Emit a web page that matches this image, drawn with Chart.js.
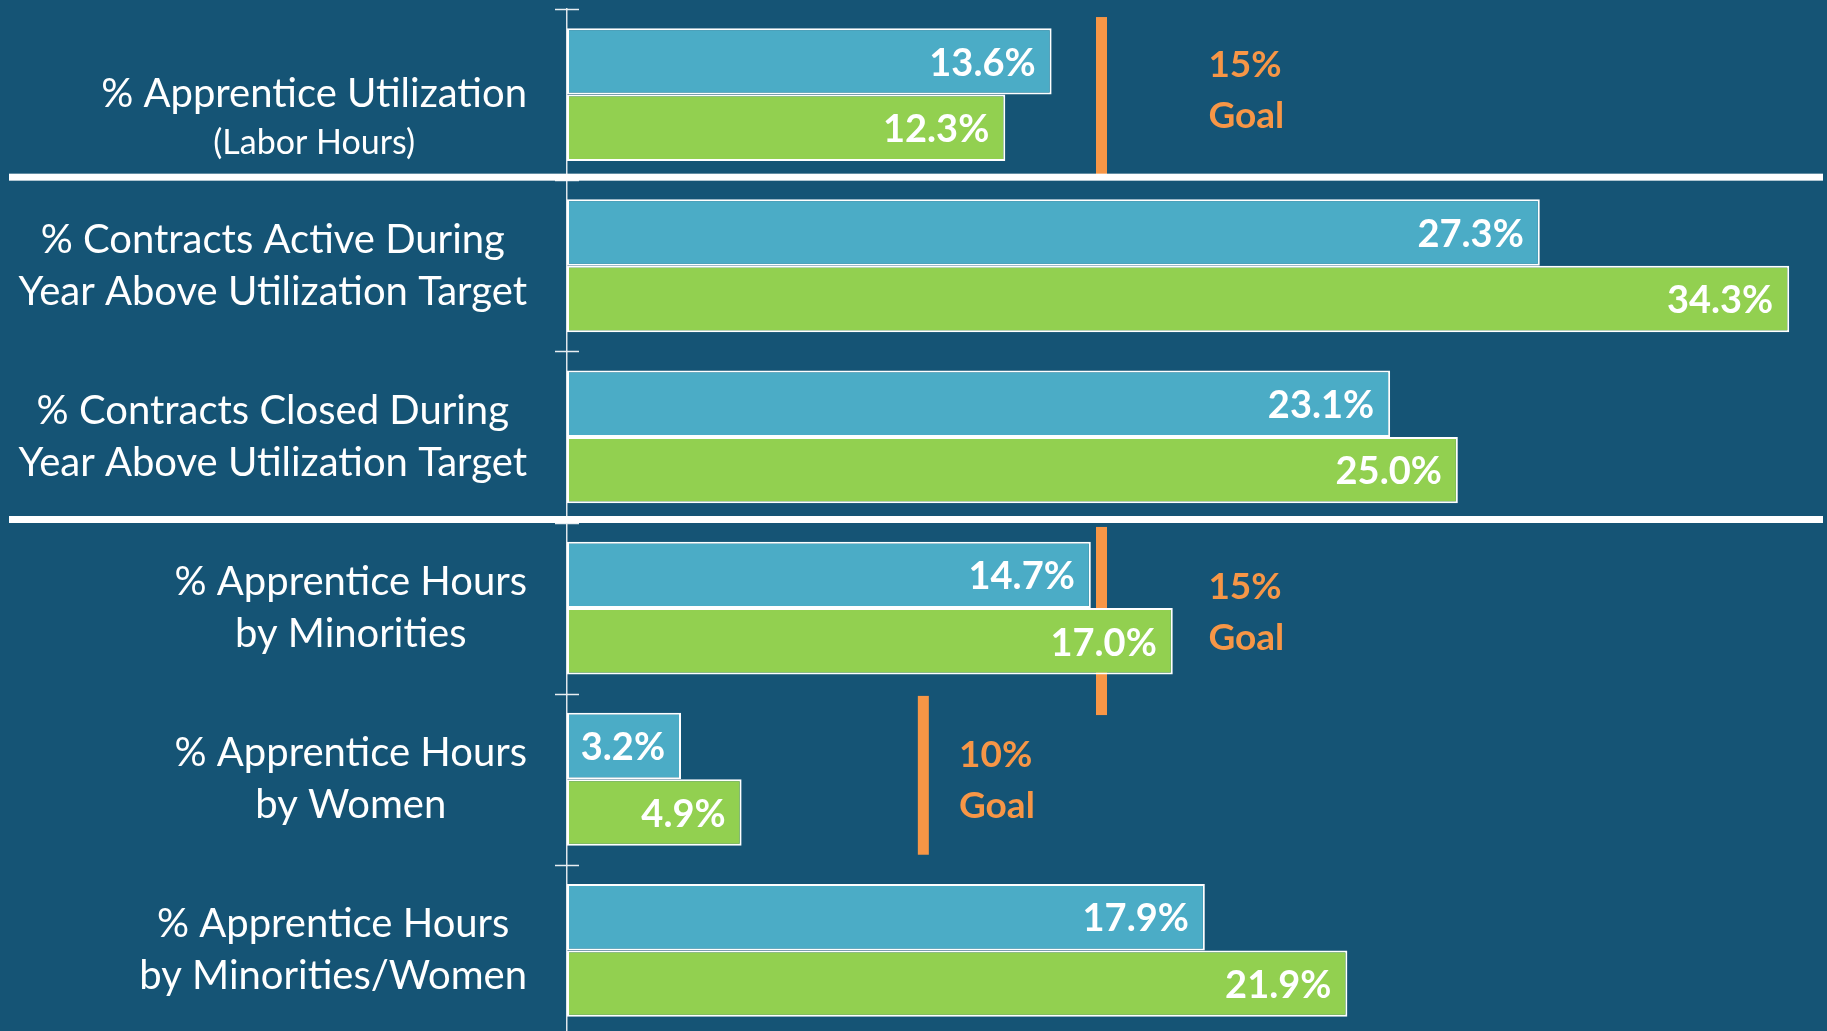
<!DOCTYPE html>
<html>
<head>
<meta charset="utf-8">
<script src="https://cdn.jsdelivr.net/npm/chart.js@4.4.1/dist/chart.umd.min.js"></script>
<style>
  html, body { margin: 0; padding: 0; background: #155475; overflow: hidden; }
  #wrap { position: absolute; left: 0; top: 0; width: 1827px; height: 1036px; }
</style>
</head>
<body>
<div id="wrap"><canvas id="utilChart"></canvas></div>
<script>
// Categorías (líneas de la etiqueta)
const categories = [
    ['% Apprentice Utilization', '(Labor Hours)'],
    ['% Contracts Active During', 'Year Above Utilization Target'],
    ['% Contracts Closed During', 'Year Above Utilization Target'],
    ['% Apprentice Hours', 'by Minorities'],
    ['% Apprentice Hours', 'by Women'],
    ['% Apprentice Hours', 'by Minorities/Women']
];
const seriesBlue = [13.6, 27.3, 23.1, 14.7, 3.2, 17.9];
const seriesGreen = [12.3, 34.3, 25.0, 17.0, 4.9, 21.9];

// Metas
const goalValues = [15, 15, 10];
const goalRows = [0, 3, 4];
const goalText = [['15%', 'Goal'], ['15%', 'Goal'], ['10%', 'Goal']];

const BG = '#155475';
const ORANGE = '#F79646';

const decoPlugin = {
    id: 'deco',
    beforeDraw(chart) {
        const { ctx, width, height } = chart;
        ctx.save();
        ctx.fillStyle = BG;
        ctx.fillRect(0, 0, width, height);
        ctx.restore();
    },
    beforeDatasetsDraw(chart, args, opts) {
        const { ctx, scales: { x, y } } = chart;
        ctx.save();
        ctx.fillStyle = ORANGE;
        goalValues.forEach((g, i) => {
            const px = x.getPixelForValue(g);
            const y0 = y.getPixelForValue(goalRows[i] + opts.goalSpans[i][0]);
            const y1 = y.getPixelForValue(goalRows[i] + opts.goalSpans[i][1]);
            ctx.fillRect(px - 5.5, y0, 11, y1 - y0);
        });
        ctx.restore();
    },
    afterDatasetsDraw(chart, args, opts) {
        const { ctx, width, scales: { x, y } } = chart;
        const axisX = x.getPixelForValue(0);
        ctx.save();

        // marcas en los límites de categoría
        ctx.strokeStyle = '#e8eef2';
        ctx.lineWidth = 1.5;
        for (let i = 0; i <= categories.length; i++) {
            const py = Math.round(y.getPixelForValue(i - 0.5)) + 0.5;
            ctx.beginPath();
            ctx.moveTo(axisX - 12, py);
            ctx.lineTo(axisX + 12, py);
            ctx.stroke();
        }

        // líneas separadoras blancas
        ctx.fillStyle = '#ffffff';
        opts.separators.forEach(b => {
            const py = y.getPixelForValue(b);
            ctx.fillRect(9, py - 6.5, width - 13, 7);
        });

        // etiquetas de categoría
        ctx.fillStyle = '#ffffff';
        ctx.textBaseline = 'middle';
        ctx.textAlign = 'center';
        const rightX = axisX - 40;
        categories.forEach((lines, i) => {
            const cy = y.getPixelForValue(i) + opts.labelShift[i];
            const fonts = lines.map(t => t.startsWith('(') ? '34px Lato' : '40px Lato');
            let maxW = 0;
            lines.forEach((t, j) => {
                ctx.font = fonts[j];
                maxW = Math.max(maxW, ctx.measureText(t).width);
            });
            const cx = rightX - maxW / 2;
            const gap = opts.lineGap[i];
            lines.forEach((t, j) => {
                ctx.font = fonts[j];
                ctx.fillText(t, cx, cy + (j - (lines.length - 1) / 2) * gap);
            });
        });

        // valores dentro de las barras
        ctx.font = 'bold 38px Lato';
        ctx.textAlign = 'right';
        chart.data.datasets.forEach((ds, di) => {
            const meta = chart.getDatasetMeta(di);
            meta.data.forEach((bar, i) => {
                ctx.fillText(ds.data[i].toFixed(1) + '%', bar.x - 16, bar.y + 2);
            });
        });

        // textos de meta
        ctx.font = 'bold 37px Lato';
        ctx.fillStyle = ORANGE;
        ctx.textAlign = 'left';
        goalText.forEach((lines, i) => {
            const lx = x.getPixelForValue(opts.goalLabelAt[i]);
            const cy = y.getPixelForValue(goalRows[i]) + opts.goalLabelShift[i];
            ctx.fillText(lines[0], lx, cy - 25.5);
            ctx.fillText(lines[1], lx, cy + 25.5);
        });
        ctx.restore();
    }
};

const ctx = document.getElementById('utilChart').getContext('2d');
new Chart(ctx, {
    type: 'bar',
    data: {
        labels: categories,
        datasets: [
            {
                label: 'Blue',
                data: seriesBlue,
                backgroundColor: '#4BACC6',
                borderColor: '#ffffff',
                borderWidth: 2,
                borderSkipped: false
            },
            {
                label: 'Green',
                data: seriesGreen,
                backgroundColor: '#92D050',
                borderColor: '#ffffff',
                borderWidth: 2,
                borderSkipped: false
            }
        ]
    },
    options: {
        indexAxis: 'y',
        responsive: true,
        maintainAspectRatio: false,
        devicePixelRatio: 1,
        animation: false,
        categoryPercentage: 0.776,
        barPercentage: 1.0,
        layout: { padding: { top: 9, left: 0, right: 0, bottom: 0 } },
        scales: {
            x: { display: false, min: 0, max: 35.36 },
            y: {
                grid: { display: false },
                border: { display: true, color: '#dfe6ec', width: 1.5 },
                ticks: { display: false },
                afterFit: (scale) => { scale.width = 567; }
            }
        },
        plugins: {
            legend: { display: false },
            tooltip: { enabled: false },
            deco: {
                separators: [0.5, 2.5],
                labelShift: [24, 0, 0, 0, 0, 0],
                lineGap: [48, 52, 52, 52, 52, 52],
                goalSpans: [[-0.453, 0.47], [-0.474, 0.625], [-0.487, 0.441]],
                goalLabelAt: [18, 18, 11],
                goalLabelShift: [-4, 4, 1]
            }
        }
    },
    plugins: [decoPlugin]
});
</script>
</body>
</html>
